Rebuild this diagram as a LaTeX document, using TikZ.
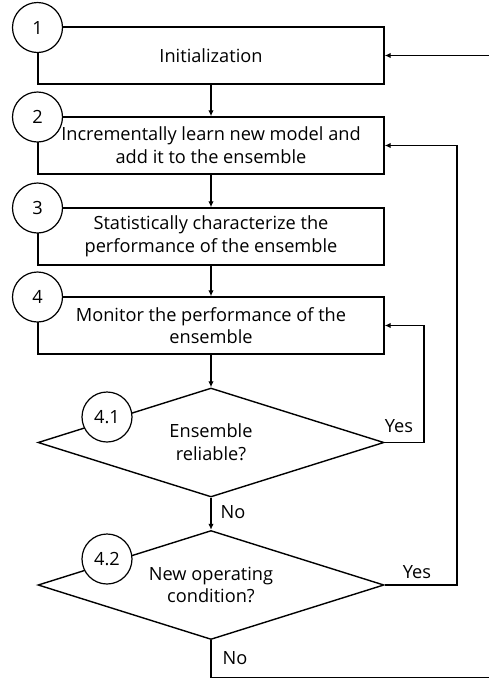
\documentclass[tikz,border=0pt]{standalone}
\usepackage{fontspec}
\setmainfont{Open Sans}
\usetikzlibrary{shapes.geometric,arrows.meta}
\begin{document}
\begin{tikzpicture}[x=1pt,y=-1pt,
  every node/.style={font=\fontsize{18.2}{22.7}\selectfont},
  stepbox/.style={draw,line width=1.4pt,minimum width=346pt,minimum height=57pt,inner sep=0pt,align=center},
  decision/.style={draw,line width=1.4pt,shape=diamond,aspect=3.17,minimum width=346pt,minimum height=109pt,inner sep=0pt,align=center},
  numcircle/.style={draw,line width=1.2pt,circle,fill=white,minimum size=50pt,inner sep=0pt},
  conn/.style={line width=1.4pt,-{Latex[length=6pt,width=5.5pt]}},
  plain/.style={line width=1.4pt},
  lbl/.style={inner sep=0pt}]
\useasboundingbox (0,0) rectangle (488,681);
\node[stepbox] (b1) at (211,55.5) {Initialization};
\node[stepbox] (b2) at (211,145.5) {Incrementally learn new model and\\add it to the ensemble};
\node[stepbox] (b3) at (211,236.5) {Statistically characterize the\\performance of the ensemble};
\node[stepbox] (b4) at (211,325.5) {Monitor the performance of the\\ensemble};
\node[decision] (d1) at (211,442.5) {Ensemble\\reliable?};
\node[decision] (d2) at (211,585) {New operating\\condition?};
\node[numcircle] (c1) at (37.5,27.5) {1};
\node[numcircle] (c2) at (37.5,117) {2};
\node[numcircle] (c3) at (37.5,208) {3};
\node[numcircle] (c4) at (37.5,297) {4};
\node[numcircle] (c41) at (107,417) {4.1};
\node[numcircle] (c42) at (107,559) {4.2};
\node[lbl] (y1) at (399,426) {Yes};
\node[lbl] (n1) at (233,512) {No};
\node[lbl] (y2) at (417,572) {Yes};
\node[lbl] (n2) at (235,658) {No};
\coordinate (r1) at (424,442.5);
\coordinate (r2) at (457,585);
\coordinate (bl) at (211,677.5);
\coordinate (br) at (492,677.5);
\draw[conn] (b1) -- (b2);
\draw[conn] (b2) -- (b3);
\draw[conn] (b3) -- (b4);
\draw[conn] (b4) -- (d1);
\draw[conn] (d1) -- (d2);
\draw[conn] (d1.east) -- (r1) |- (b4.east);
\draw[conn] (d2.east) -- (r2) |- (b2.east);
\draw[conn] (d2.south) -- (bl) -- (br) |- (b1.east);
\end{tikzpicture}
\end{document}
